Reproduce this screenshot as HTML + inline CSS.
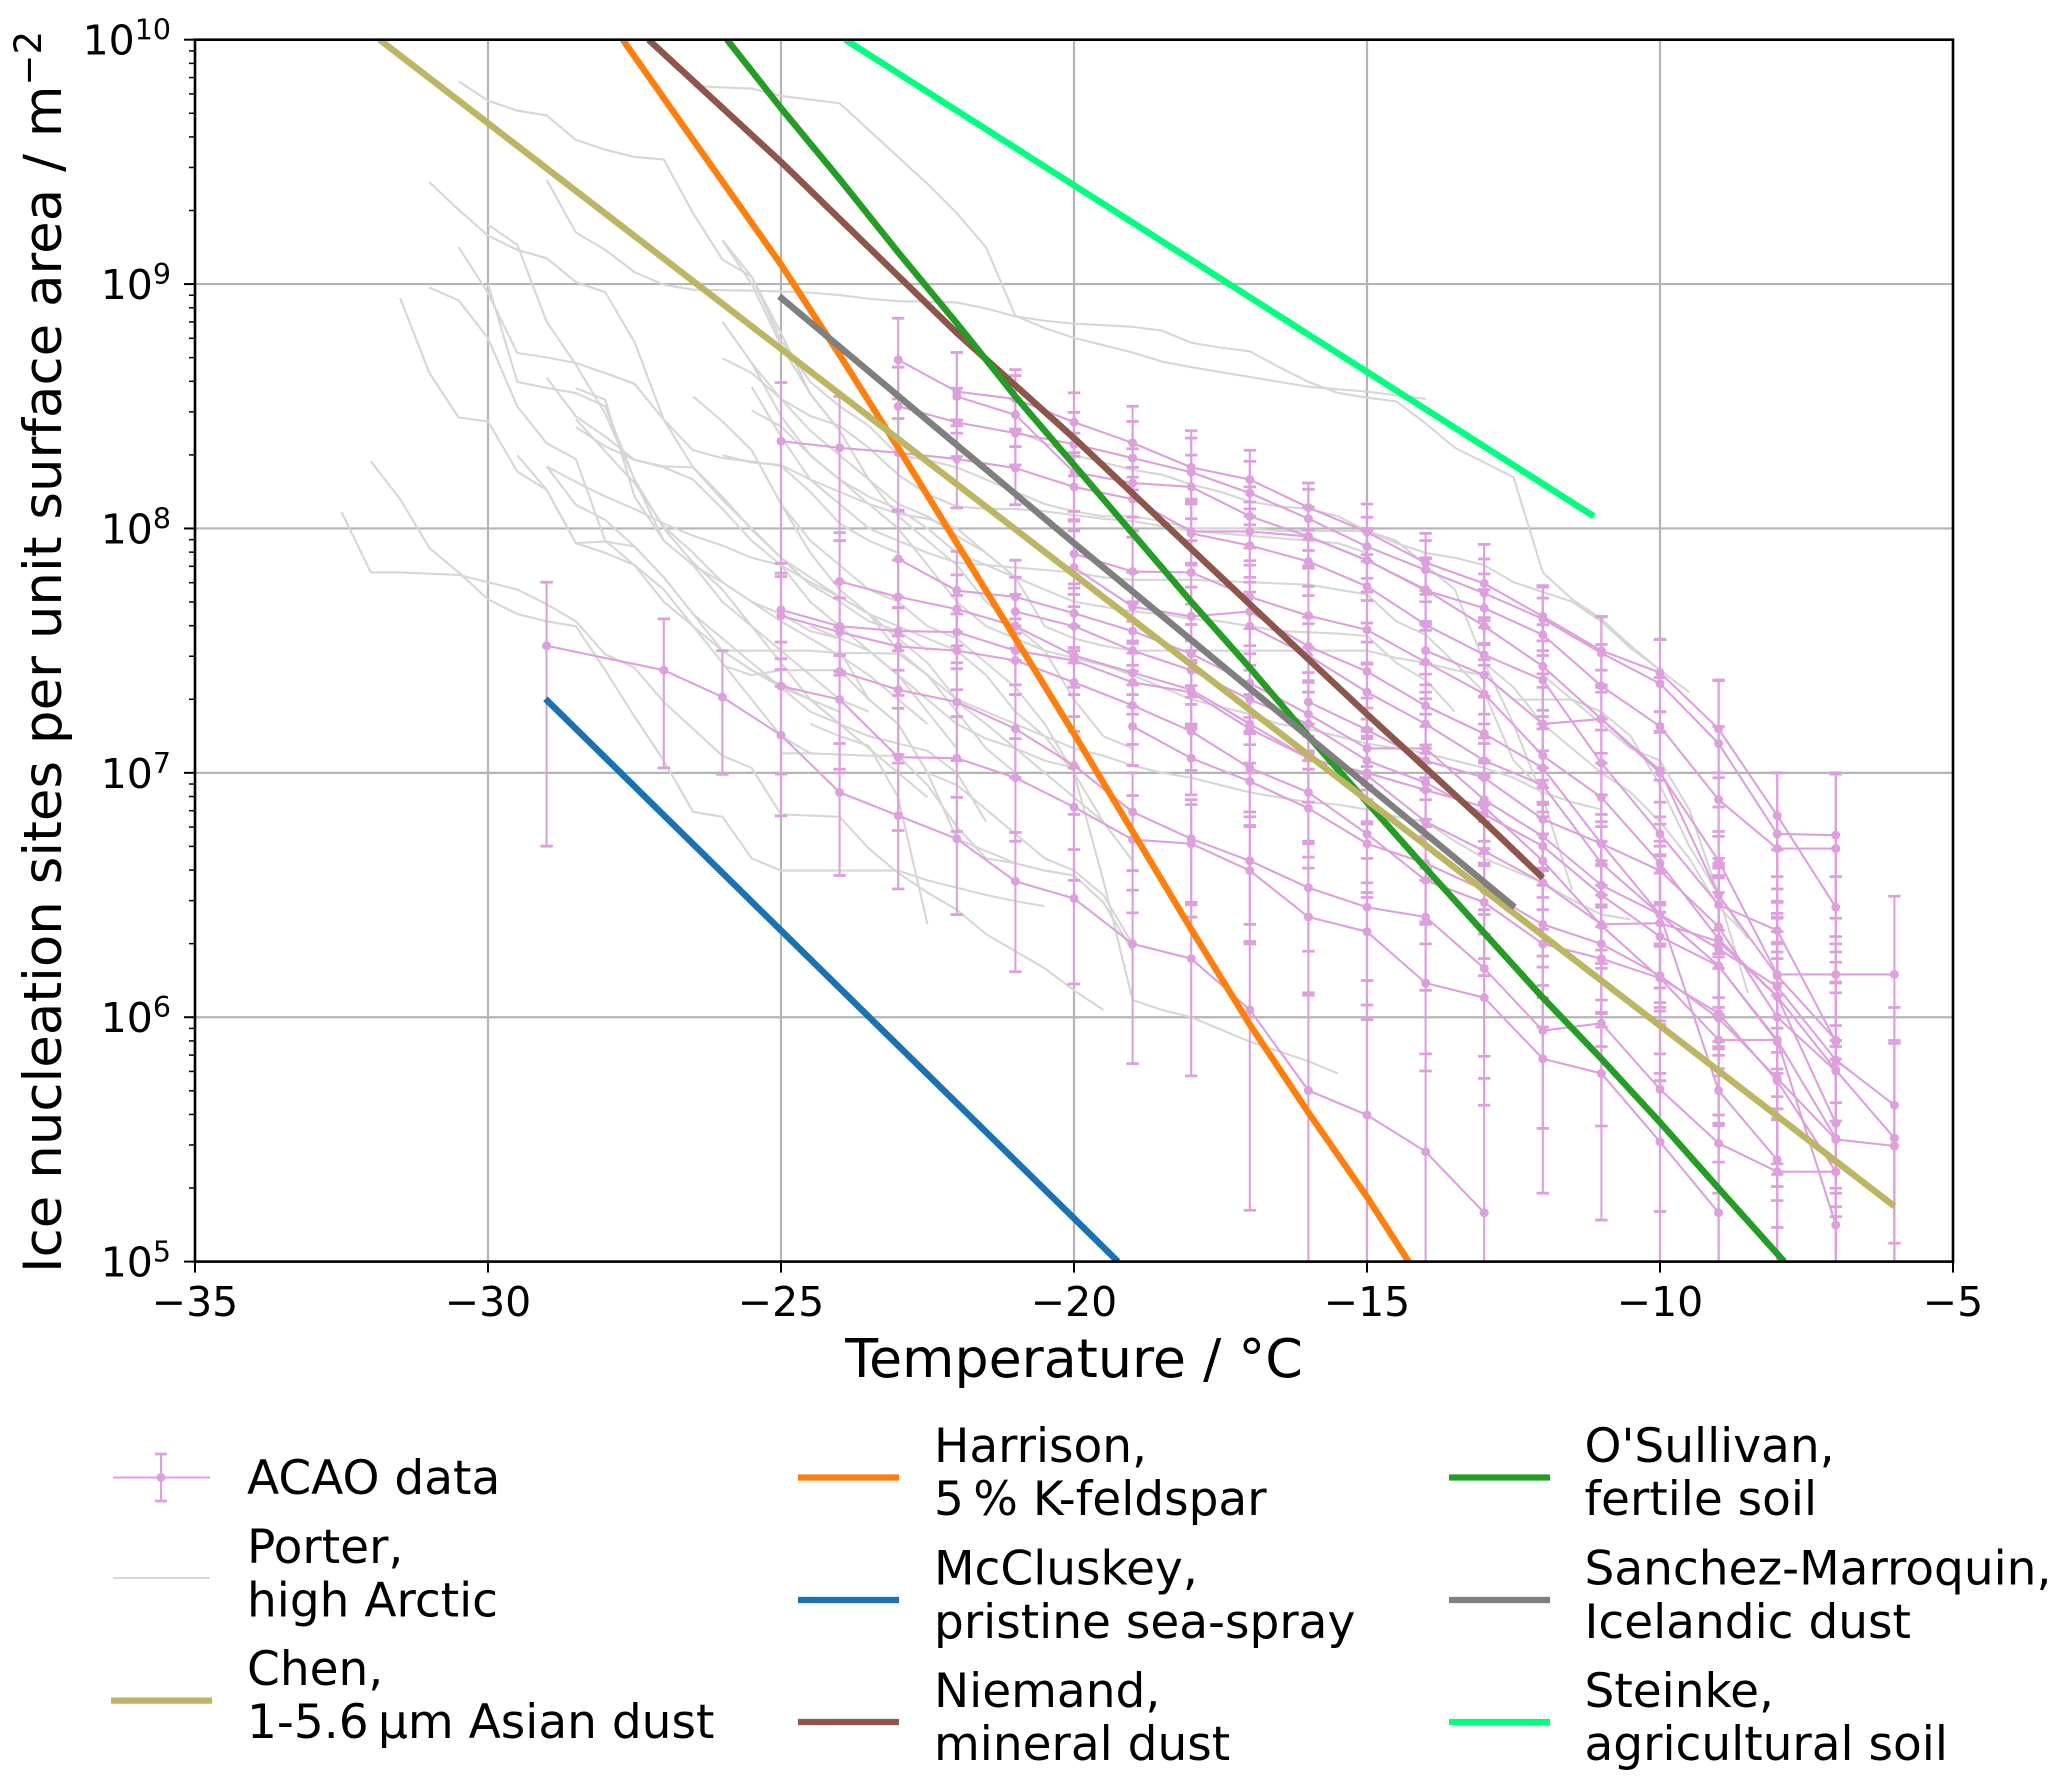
<!DOCTYPE html>
<html lang="en">
<head>
<meta charset="utf-8">
<title>Ice nucleation sites per unit surface area versus temperature</title>
<style>
html,body{margin:0;padding:0;background:#fff;}
svg{display:block;font-family:"DejaVu Sans","Liberation Sans",sans-serif;}
text{fill:#000;}
</style>
</head>
<body>
<svg id="chart" xmlns="http://www.w3.org/2000/svg" width="2067" height="1788" viewBox="0 0 2067 1788">
  <defs><clipPath id="plot-clip"><rect x="195" y="39.7" width="1758" height="1221.9"/></clipPath></defs>
  <rect x="0" y="0" width="2067" height="1788" fill="#fff"/>
  <g id="grid"></g>
  <g id="marks" clip-path="url(#plot-clip)">
    <g id="porter"></g>
    <g id="acao"></g>
    <g id="models"></g>
  </g>
  <g id="axes"></g>

  <text x="1074" y="1377" font-size="53.8" text-anchor="middle">Temperature / °C</text>
  <text transform="translate(61,652) rotate(-90)" font-size="53" text-anchor="middle">Ice nucleation sites per unit surface area / m<tspan font-size="37" dy="-20">−2</tspan></text>

  <g font-size="47">
    <g>
      <line x1="113" x2="210" y1="1477.5" y2="1477.5" stroke="#dda0dd" stroke-width="2.1"/>
      <line x1="161" x2="161" y1="1454" y2="1501" stroke="#dda0dd" stroke-width="2.1"/>
      <line x1="155" x2="167" y1="1454" y2="1454" stroke="#dda0dd" stroke-width="2.8"/>
      <line x1="155" x2="167" y1="1501" y2="1501" stroke="#dda0dd" stroke-width="2.8"/>
      <circle cx="161" cy="1477.5" r="4.5" fill="#dda0dd"/>
      <text x="247" y="1494">ACAO data</text>
    </g>
    <g>
      <line x1="113" x2="210" y1="1578" y2="1578" stroke="#d6d6d6" stroke-width="2.1"/>
      <text x="247" y="1563">Porter,</text>
      <text x="247" y="1616.5">high Arctic</text>
    </g>
    <g>
      <line x1="111" x2="212" y1="1700.6" y2="1700.6" stroke="#bcb564" stroke-width="6.3"/>
      <text x="247" y="1685">Chen,</text>
      <text x="247" y="1738">1-5.6&#8201;µm Asian dust</text>
    </g>
    <g>
      <line x1="798" x2="899" y1="1477.5" y2="1477.5" stroke="#ff7f0e" stroke-width="6.3"/>
      <text x="934" y="1462">Harrison,</text>
      <text x="934" y="1515">5&#8201;% K-feldspar</text>
    </g>
    <g>
      <line x1="798" x2="899" y1="1600" y2="1600" stroke="#1b72b2" stroke-width="6.3"/>
      <text x="934" y="1584.6">McCluskey,</text>
      <text x="934" y="1637.8">pristine sea-spray</text>
    </g>
    <g>
      <line x1="798" x2="899" y1="1722" y2="1722" stroke="#8c564b" stroke-width="6.3"/>
      <text x="934" y="1707">Niemand,</text>
      <text x="934" y="1760">mineral dust</text>
    </g>
    <g>
      <line x1="1449" x2="1550" y1="1477.5" y2="1477.5" stroke="#259c26" stroke-width="6.3"/>
      <text x="1584.5" y="1462">O'Sullivan,</text>
      <text x="1584.5" y="1515">fertile soil</text>
    </g>
    <g>
      <line x1="1449" x2="1550" y1="1600" y2="1600" stroke="#7f7f7f" stroke-width="6.3"/>
      <text x="1584.5" y="1584.6">Sanchez-Marroquin,</text>
      <text x="1584.5" y="1637.8">Icelandic dust</text>
    </g>
    <g>
      <line x1="1449" x2="1550" y1="1722" y2="1722" stroke="#00ff7f" stroke-width="6.3"/>
      <text x="1584.5" y="1707">Steinke,</text>
      <text x="1584.5" y="1760">agricultural soil</text>
    </g>
  </g>
</svg>
<script>
/* ---------- axis ticks ---------- */
const xTickValues = [-35, -30, -25, -20, -15, -10, -5];
const yTickExponents = [5, 6, 7, 8, 9, 10];

/* ---------- Porter, high Arctic: start temperature, then log10(n) every 0.5 degC ---------- */
const porterStart = [-30.5,-26.5,-29,-31,-30.5,-30,-31,-31.5,-30,-29,-28.5,-28.5,-28.5,-29.5,-29,-29,-32.5,-32,-26,-26,-25,-25.5,-26,-26,-25.5,-26,-25.5,-25,-26,-26.5,-24.5,-22,-21,-13,-12,-24.5,-24,-22,-26];
const porterLogN = [
[9.83,9.75,9.71,9.69,9.59,9.55,9.52,9.51,9.29,9.10,9.03,8.8,8.55,8.4],
[9.81,9.805,9.80,9.77,9.755,9.74,9.63,9.52,9.41,9.29,9.15,8.87,8.82,8.78,8.75,8.72,8.683,8.66,8.64,8.62,8.60,8.58,8.57,8.56,8.545,8.53],
[9.427,9.211,9.14,9.049,8.997,8.977,8.975,8.973,8.97,8.965,8.955,8.94,8.93,8.928,8.925,8.90,8.868,8.85,8.838,8.832,8.825,8.81,8.76,8.74,8.725,8.66,8.6,8.555,8.535,8.52,8.43,8.33,8.27,8.21,7.82,7.71,7.63,7.52,7.42,7.33],
[9.416,9.304,9.198,9.14,9.106,9.008,8.967,8.763,8.445,8.32,8.288,8.274,8.256,8.15,8.02,7.95,7.9],
[9.151,8.963,8.718,8.70,8.677,8.636,8.592,8.445,8.25,8.13,7.995,7.88,7.77,7.7,7.62,7.58,7.5],
[9.243,9.161,8.847,8.67,8.47,8.2,8.0,7.86,7.75,7.6,7.45,7.3,7.2,7.1,7.0,6.9],
[8.986,8.933,8.779,8.499,8.349,8.284,7.95,7.85,7.75,7.6,7.45,7.3,7.15,7.08],
[8.943,8.636,8.454,8.438,8.233,8.158,7.94,7.9,7.85,7.7,7.6,7.5,7.42,7.36,7.3,7.2,7.1],
[9.0,8.6,8.575,8.554,8.5,8.2,7.95,7.85,7.78,7.7,7.65,7.58,7.55],
[8.618,8.458,8.376,8.281,8.254,8.25,8.117,8.0,7.88,7.8,7.72,7.65,7.55,7.45,7.3],
[8.574,8.527,8.13,7.95,7.85,7.7,7.6,7.5,7.4,7.3,7.25],
[8.447,8.315,8.186,8.008,7.9,7.78,7.7,7.62,7.55,7.48,7.4,7.3,7.2],
[8.415,8.336,8.281,8.25,8.2,8.08,7.95,7.85,7.7,7.6,7.5,7.4,7.25,7.1],
[8.30,8.158,7.94,7.947,7.926,7.8,7.65,7.5,7.42,7.35,7.25,7.2,7.15,7.12,7.09,7.0,6.8],
[8.254,8.097,8.035,7.926,7.8,7.65,7.55,7.45,7.35,7.3,7.25],
[8.254,8.19,8.131,8.08,8.02,7.97,7.93,7.88,7.85,7.78,7.72,7.65,7.6,7.55,7.5],
[8.067,7.82,7.82,7.815,7.81,7.78,7.75,7.69,7.62,7.485,7.43,7.29,7.18,7.07,7.02,6.83,6.825,6.82,6.69,6.59,6.51,6.44,6.34,6.27,6.2,6.11,6.03],
[8.275,8.12,7.92,7.82,7.71,7.65,7.62,7.60,7.42,7.23,7.05,6.84,6.82,6.65,6.60,6.60,6.60,6.6,6.6,6.56,6.53,6.50,6.475,6.454],
[7.44,7.4,7.42,7.42,7.42,7.3,7.2,7.0,6.95,6.85,6.75,6.65,6.6,6.5,6.3],
[7.5,7.5,7.5,7.5,7.49,7.49,7.488,7.4,7.25,7.1,7.0],
[7.08,7.08,7.075,7.07,7.07,6.95,6.78,6.65,6.63,6.6,6.58,6.47,6.27],
[8.677,8.53,8.46,8.42,8.33,8.22,8.14,8.09,8.08,8.08,8.07,8.055,8.04,8.03,8.01,7.99,7.98,7.97,7.96,7.95,7.94,7.9],
[9.18,9.03,8.77,8.6,8.5,8.42,8.3,8.28,8.25,8.2,8.15,8.1,8.07,8.05,8.05,8.03,8.0,8.0,8.0,7.99,7.99,7.99,7.99,7.94,7.9,7.88,7.85,7.78,7.74,7.7,7.62,7.51,7.42],
[8.847,8.677,8.46,8.3,8.2,8.13,8.08,8.0,7.9,7.85,7.8,7.75,7.7,7.68,7.66,7.65,7.63,7.62,7.6,7.58,7.575,7.57,7.56,7.45,7.38,7.25],
[8.58,8.376,8.2,8.1,8.0,7.95,7.9,7.86,7.85,7.84,7.83,7.82,7.80,7.79,7.79,7.79,7.785,7.78,7.775,7.77,7.75,7.73,7.62,7.565,7.45,7.33,7.05,6.93],
[8.697,8.636,8.53,8.4,8.3,8.2,8.1,8.05,7.97,7.9,7.8,7.6,7.55,7.52,7.5,7.5,7.5,7.5,7.5,7.5,7.5,7.5,7.5,7.47,7.45,7.42,7.4,7.3,7.3,7.3,7.25,7.15,6.95,6.7,6.5,6.32],
[8.483,8.417,8.3,8.2,8.1,8.0,7.85,7.7,7.6,7.55,7.5,7.47,7.44,7.4,7.35,7.3,7.27,7.24,7.2,7.18,7.15,7.12,7.1,7.08,7.05,7.02,6.98,6.92,6.88,6.85],
[8.1,7.9,7.75,7.65,7.5,7.4,7.3,7.25,7.2,7.15,7.1,7.07,7.03,7.0,6.98,6.95,6.92,6.9,6.88,6.87,6.85,6.82,6.8,6.72,6.65,6.6,6.55,6.48,6.42,6.4],
[9.179,9.0,8.75,8.55,8.4,8.2,8.05,7.95,7.85,7.7,7.6,7.5,7.3,7.15,7.1],
[8.54,8.438,8.32,8.10,7.95,7.85,7.75,7.7,7.6,7.55,7.45,7.35,7.2,7.0,6.8],
[7.6,7.55,7.5,7.4,7.3,7.2,7.14,7.1,7.05,7.02],
[7.5,7.4,7.25,7.15,7.0,6.56,6.07,6.03,6.0,5.95,5.9,5.86,5.82,5.77],
[8.4,8.35,8.3,8.27,8.24,8.22,8.18,8.15,8.11,8.09,8.08,8.05,7.99,7.95,7.85,7.75,7.45,7.2,6.9,6.52],
[7.45,7.35,7.2,7.1,7.0,6.92,6.8,6.65,6.45,6.33],
[7.4,7.3,7.2,7.1,7.05,6.85,6.5,6.1],
[7.2,7.15,7.11,6.9,6.38],
[7.5,7.3,7.2,7.0,6.73,6.68,6.63,6.6,6.58,6.47,6.27],
[7.29,7.2,7.1,7.0,6.9,6.8,6.64],
[8.3,8.27,8.26,8.2,8.15,8.1,8.06,8.04,8.0,7.9,7.8]
];

/* ---------- ACAO data: start temperature, then log10(n) and error extents (decades) per 1 degC ---------- */
const acaoStart = [-23,-23,-22,-25,-18,-20,-20,-23,-24,-25,-25,-25,-24,-29,-19,-16,-14,-21,-17];
const acaoLogN = [
[8.69,8.56,8.53,8.435,8.35,8.25,8.2,8.086,7.985,7.86,7.775,7.64,7.5,7.41,7.18,6.825,6.45],
[8.5,8.434,8.39,8.345,8.288,8.23,8.145,8.04,7.926,7.83,7.735,7.63,7.49,7.365,7.12,6.75,6.745],
[8.54,8.465,8.23,8.186,8.17,8.05,7.967,7.87,7.746,7.674,7.565,7.355,7.19,6.89,6.69,6.69],
[8.357,8.33,8.31,8.284,8.247,8.17,8.12,7.988,7.988,7.967,7.87,7.75,7.6,7.436,7.22,7.0,6.64,6.175,6.175,6.175],
[7.98,7.93,7.865,7.763,7.606,7.483,7.38,7.04,6.75,6.46,6.355,5.9],
[7.896,7.824,7.82,7.72,7.643,7.585,7.453,7.323,7.07,6.9,6.63,6.32,6.085,5.566],
[7.84,7.68,7.64,7.66,7.517,7.415,7.274,7.16,7.02,6.71,6.42,6.21,5.907,5.15],
[7.875,7.746,7.72,7.653,7.58,7.487,7.367,7.24,7.1,7.1,6.89,6.74,6.54,6.42,6.28,6.125,5.825,5.64],
[7.783,7.72,7.67,7.6,7.48,7.41,7.34,7.2,7.06,7.0,6.93,6.86,6.64,6.375,6.16,6.016,5.74,5.368],
[7.667,7.6,7.58,7.576,7.5,7.46,7.37,7.33,7.18,7.06,6.99,6.8,6.68,6.55,6.38,6.385,6.31,6.085,5.784,5.505],
[7.643,7.576,7.517,7.5,7.46,7.37,7.276,7.17,7.02,6.92,6.75,6.56,6.47,6.30,6.24,6.16,5.907,5.907,5.505],
[7.355,7.30,7.064,7.06,6.98,6.86,6.727,6.71,6.6,6.41,6.35,6.14,6.08,5.83,5.77,5.49,5.2],
[7.415,7.34,7.29,7.18,7.03,6.84,6.73,6.64,6.53,6.45,6.41,6.2,5.945,5.975,5.705,5.484,5.368,5.368],
[7.52,null,7.42,7.31,7.154,6.92,6.825,6.73,6.556,6.486,6.30,6.24,6.03,5.70,5.60,5.45,5.2],
[7.19,7.06,6.965,6.855,6.71,6.63,6.52,6.38,6.3,6.17,5.996,5.75,5.5,5.473],
[7.29,7.176,7.05,6.98,6.81,6.71,6.6,6.37,6.0,5.78],
[7.5,7.4,7.2,7.22,7.01,6.5,6.17,5.907],
[7.66,7.6,7.5,7.42,7.3,7.2,7.05,6.96,6.83,6.7,6.5,6.33,6.21,5.9],
[7.6,7.48,7.33,7.2,7.05,6.95,6.63,6.42,5.7,5.416]
];
const acaoErrUp = [
[.17,.16,.12,.12,.15,.15,.12,.10,.115,.12,.16,.126,.138,.137,.197,.175,.55],
[.16,.14,.14,.13,.15,.14,.13,.12,.12,.12,.14,.13,.15,.18,.26,.25,.25],
[.18,.16,.16,.14,.13,.12,.12,.13,.13,.14,.15,.17,.2,.3,.31,.31],
[.24,.21,.14,.16,.16,.14,.13,.13,.12,.12,.12,.13,.15,.17,.2,.25,.36,.4,.4,.32],
[.12,.12,.13,.13,.14,.14,.16,.18,.22,.3,.33,.4],
[.14,.14,.13,.13,.12,.12,.13,.14,.16,.18,.25,.33,.34,.4],
[.15,.14,.12,.12,.12,.12,.13,.15,.18,.2,.3,.36,.4,.5],
[.2,.16,.15,.12,.12,.12,.12,.13,.12,.14,.16,.2,.24,.28,.3,.35,.4,.4],
[.2,.15,.14,.13,.12,.12,.12,.12,.14,.15,.15,.18,.2,.25,.3,.34,.4,.46],
[.15,.18,.14,.15,.13,.14,.12,.12,.14,.14,.15,.18,.2,.2,.24,.28,.3,.32,.36,.4],
[.16,.14,.16,.15,.14,.13,.14,.14,.15,.16,.18,.18,.2,.24,.26,.3,.34,.36,.4],
[.18,.18,.2,.17,.16,.16,.18,.16,.18,.2,.2,.24,.26,.3,.3,.36,.4],
[.18,.16,.16,.14,.14,.16,.16,.18,.18,.2,.2,.24,.26,.3,.32,.36,.42,.44],
[.26,0,.21,.19,.2,.2,.25,.17,.2,.2,.22,.22,.28,.4,.45,.4,.55],
[.13,.12,.15,.16,.18,.18,.2,.22,.24,.26,.3,.34,.38,.42],
[.12,.13,.14,.14,.16,.2,.22,.25,.3,.36],
[.12,.13,.15,.14,.16,.24,.3,.36],
[.14,.13,.12,.12,.12,.13,.12,.14,.16,.18,.22,.26,.3,.34],
[.14,.13,.12,.13,.15,.14,.2,.24,.34,.44]
];
const acaoErrDown = [
[.16,.14,.13,.14,.14,.13,.12,.13,.12,.13,.14,.14,.15,.16,.2,.3,.35],
[.15,.14,.13,.13,.13,.12,.13,.13,.13,.13,.14,.15,.16,.2,.26,.34,.34],
[.15,.13,.16,.14,.13,.13,.12,.13,.14,.15,.16,.18,.22,.26,.34,.36],
[.5,.38,.24,.2,.15,.14,.13,.13,.12,.13,.13,.14,.16,.18,.22,.3,.38,.5,.6,1.1],
[.13,.13,.14,.15,.16,.17,.2,.24,.28,.38,.4,.6],
[.14,.13,.13,.13,.13,.14,.15,.18,.2,.26,.34,.42,.5,.6],
[.16,.14,.14,.14,.14,.15,.16,.18,.2,.26,.36,.45,.55,.6],
[.2,.17,.15,.14,.14,.13,.14,.15,.15,.17,.2,.25,.32,.38,.4,.5,.6,.7],
[.3,.16,.15,.14,.13,.14,.14,.16,.18,.2,.2,.24,.28,.36,.42,.45,.6,.6],
[.2,.2,.16,.15,.14,.14,.13,.14,.18,.18,.2,.24,.26,.3,.36,.4,.44,.5,.6,.7],
[.22,.16,.2,.16,.14,.14,.16,.16,.18,.2,.24,.26,.3,.34,.36,.42,.5,.6,.7],
[.36,.3,.3,.3,.26,.3,.3,.3,.3,.32,.36,.36,.44,.55,.6,.7,.8],
[.4,.3,.24,.2,.2,.24,.26,.26,.26,.3,.3,.36,.4,.42,.5,.6,.8,.8],
[.82,0,.4,.316,.33,.34,.3,.31,.37,.35,.49,.48,.82,1.0,1.0,1.0,1.0],
[.16,.15,.18,.2,.22,.24,.28,.3,.34,.4,.44,.5,.6,.6],
[.14,.15,.16,.18,.2,.25,.3,.36,.42,.5],
[.14,.16,.18,.18,.22,.3,.4,.5],
[.15,.15,.14,.14,.14,.15,.16,.18,.2,.26,.3,.36,.42,.5],
[.16,.15,.15,.16,.18,.2,.26,.3,.42,.6]
];

/* ---------- parameterisations ---------- */
const harrisonTemps = [-27.7,-26.5,-25,-24,-23,-22,-21,-20,-19,-18,-17,-16,-15,-14.29];
const harrisonLogN = [10,9.59,9.08,8.71,8.33,7.94,7.55,7.16,6.76,6.36,5.97,5.61,5.265,5];
const mccluskeyTemps = [-29.02,-25,-20,-19.25];
const mccluskeyLogN = [7.303,6.355,5.177,5];
const niemandTemps = [-27.26,-25,-22,-20,-17,-15,-13,-12];
const niemandLogN = [10,9.50,8.80,8.37,7.69,7.24,6.80,6.57];
const osullivanTemps = [-25.92,-25,-24,-23,-22,-21,-20,-19,-18,-17,-16,-15,-14,-13,-12,-11,-10,-9,-7.88];
const osullivanLogN = [10,9.72,9.43,9.13,8.84,8.54,8.26,7.98,7.70,7.43,7.15,6.88,6.61,6.345,6.08,5.83,5.57,5.3,5];
const chenTemps = [-31.85,-6];
const chenLogN = [10,5.2265];
const sanchezTemps = [-25.03,-20,-12.48];
const sanchezLogN = [8.95,7.94,6.45];
const steinkeTemps = [-23.9,-11.13];
const steinkeLogN = [10,8.05];

/* ---------- axis functions ---------- */
const plotLeft = 195, plotRight = 1953, plotTop = 39.7, plotBottom = 1261.6;
function xScale(t) { return plotLeft + (t + 35) / 30 * (plotRight - plotLeft); }
function yScale(logN) { return plotBottom - (logN - 5) / 5 * (plotBottom - plotTop); }

const NS = 'http://www.w3.org/2000/svg';
function make(parent, tag, attrs, name) {
  const el = document.createElementNS(NS, tag);
  for (const k in attrs) el.setAttribute(k, attrs[k]);
  
  
  parent.appendChild(el);
  return el;
}
function polyPoints(ts, ls) {
  const pts = [];
  for (let i = 0; i < ts.length; i++) {
    if (ls[i] === null) continue;
    pts.push(xScale(ts[i]).toFixed(2) + ',' + yScale(ls[i]).toFixed(2));
  }
  return pts.join(' ');
}

/* grid */
const gridG = document.getElementById('grid');
xTickValues.forEach(function (t) {
  make(gridG, 'line', {x1: xScale(t), x2: xScale(t), y1: plotTop, y2: plotBottom, stroke: '#b4b4b4', 'stroke-width': 2.2}, 'x-gridline');
});
yTickExponents.forEach(function (e) {
  make(gridG, 'line', {x1: plotLeft, x2: plotRight, y1: yScale(e), y2: yScale(e), stroke: '#b4b4b4', 'stroke-width': 2.2}, 'y-gridline');
});

/* Porter */
const porterG = document.getElementById('porter');
porterLogN.forEach(function (vals, s) {
  const ts = vals.map(function (_, i) { return porterStart[s] + i * 0.5; });
  make(porterG, 'polyline', {points: polyPoints(ts, vals), fill: 'none', stroke: '#d6d6d6', 'stroke-width': 2.1, 'stroke-linejoin': 'round'}, 'porter-line');
});

/* ACAO */
const acaoG = document.getElementById('acao');
acaoLogN.forEach(function (vals, s) {
  const color = '#dda0dd';
  const g = make(acaoG, 'g', {}, 'acao-series');
  const ts = vals.map(function (_, i) { return acaoStart[s] + i; });
  vals.forEach(function (v, i) {
    if (v === null) return;
    const x = xScale(ts[i]);
    const yHi = yScale(v + acaoErrUp[s][i]);
    const yLo = yScale(v - acaoErrDown[s][i]);
    make(g, 'line', {x1: x, x2: x, y1: yHi, y2: yLo, stroke: color, 'stroke-width': 2.1}, 'acao-error-bar');
    make(g, 'line', {x1: x - 6.2, x2: x + 6.2, y1: yHi, y2: yHi, stroke: color, 'stroke-width': 2.8}, 'acao-error-cap-upper');
    make(g, 'line', {x1: x - 6.2, x2: x + 6.2, y1: yLo, y2: yLo, stroke: color, 'stroke-width': 2.8}, 'acao-error-cap-lower');
  });
  make(g, 'polyline', {points: polyPoints(ts, vals), fill: 'none', stroke: color, 'stroke-width': 2.1, 'stroke-linejoin': 'round'}, 'acao-line');
  vals.forEach(function (v, i) {
    if (v === null) return;
    make(g, 'circle', {cx: xScale(ts[i]), cy: yScale(v), r: 4.5, fill: color}, 'acao-point');
  });
});

/* Parameterisations */
const modelG = document.getElementById('models');
make(modelG, 'polyline', {points: polyPoints(harrisonTemps, harrisonLogN), fill: 'none', stroke: '#ff7f0e', 'stroke-width': 6.5, 'stroke-linejoin': 'round'}, 'harrison-line');
make(modelG, 'polyline', {points: polyPoints(mccluskeyTemps, mccluskeyLogN), fill: 'none', stroke: '#1b72b2', 'stroke-width': 6.5, 'stroke-linejoin': 'round'}, 'mccluskey-line');
make(modelG, 'polyline', {points: polyPoints(niemandTemps, niemandLogN), fill: 'none', stroke: '#8c564b', 'stroke-width': 6.5, 'stroke-linejoin': 'round'}, 'niemand-line');
make(modelG, 'polyline', {points: polyPoints(osullivanTemps, osullivanLogN), fill: 'none', stroke: '#259c26', 'stroke-width': 6.5, 'stroke-linejoin': 'round'}, 'osullivan-line');
make(modelG, 'polyline', {points: polyPoints(chenTemps, chenLogN), fill: 'none', stroke: '#bcb564', 'stroke-width': 6.5}, 'chen-line');
make(modelG, 'polyline', {points: polyPoints(sanchezTemps, sanchezLogN), fill: 'none', stroke: '#7f7f7f', 'stroke-width': 6.5}, 'sanchez-marroquin-line');
make(modelG, 'polyline', {points: polyPoints(steinkeTemps, steinkeLogN), fill: 'none', stroke: '#00ff7f', 'stroke-width': 6.5}, 'steinke-line');

/* Axes, ticks and tick labels */
const axesG = document.getElementById('axes');
xTickValues.forEach(function (t) {
  const x = xScale(t);
  make(axesG, 'line', {x1: x, x2: x, y1: plotBottom, y2: plotBottom + 11, stroke: '#000', 'stroke-width': 2}, 'x-tick');
  const lab = make(axesG, 'text', {x: x, y: 1316, 'font-size': 41, 'text-anchor': 'middle'}, 'x-tick-label');
  lab.textContent = '\u2212' + Math.abs(t);
});
yTickExponents.forEach(function (e) {
  const y = yScale(e);
  make(axesG, 'line', {x1: plotLeft - 11, x2: plotLeft, y1: y, y2: y, stroke: '#000', 'stroke-width': 2}, 'y-tick');
  const lab = make(axesG, 'text', {x: 171, y: y + 15, 'font-size': 41, 'text-anchor': 'end'}, 'y-tick-label');
  lab.appendChild(document.createTextNode('10'));
  const sup = document.createElementNS(NS, 'tspan');
  sup.setAttribute('font-size', '28.5');
  sup.setAttribute('dy', '-15');
  sup.textContent = String(e);
  lab.appendChild(sup);
  if (e < 10) {
    for (let m = 2; m <= 9; m++) {
      const ym = yScale(e + Math.log10(m));
      make(axesG, 'line', {x1: plotLeft - 6, x2: plotLeft, y1: ym, y2: ym, stroke: '#000', 'stroke-width': 1.5}, 'y-minor-tick');
    }
  }
});
make(axesG, 'rect', {x: plotLeft, y: plotTop, width: plotRight - plotLeft, height: plotBottom - plotTop, fill: 'none', stroke: '#000', 'stroke-width': 2.6}, 'axes-frame');
</script>
</body>
</html>
